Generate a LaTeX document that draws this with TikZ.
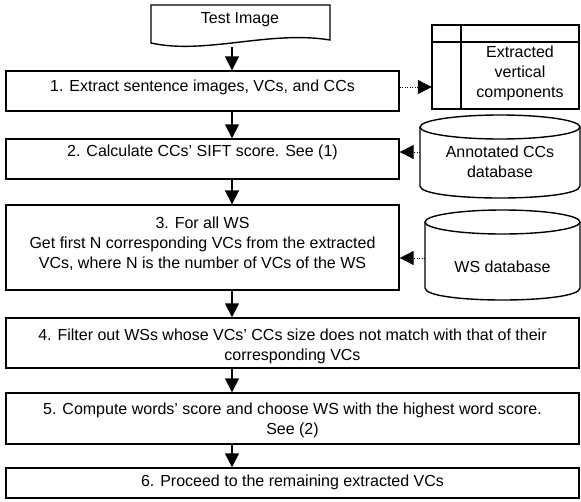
\documentclass[tikz,border=0pt]{standalone}
\usepackage{fontspec}
\setmainfont{Liberation Sans}
\usetikzlibrary{arrows.meta}
\begin{document}
\begin{tikzpicture}[x=1pt,y=-1pt,
  every node/.style={font=\fontsize{16}{20}\selectfont, align=center, inner sep=0pt},
  proc/.style={draw, line width=1.4pt},
  outline/.style={line width=1.4pt},
  flow/.style={line width=1.6pt, -{Triangle[length=14pt,width=14pt]}},
  feed/.style={line width=1pt, dash pattern=on 1pt off 1.5pt, -{Triangle[length=14pt,width=14pt]}}]
\useasboundingbox (0,0) rectangle (581,501);

% input document
\draw[outline] (151,43) -- (151,5) -- (330,5) -- (330,40)
  .. controls (270,30) and (205,55) .. cycle;
\node (img) at (240,20) {Test Image};
\coordinate (imgout) at (232,47);

% step 1 and its output store
\node[proc, minimum width=393pt, minimum height=40pt] (b1) at (202.5,91) {};
\node (t1) at (202.5,87) {1. Extract sentence images, VCs, and CCs};
\draw[outline] (432,25) rectangle (579,109);
\draw[outline] (461,25) -- (461,109) (432,42) -- (579,42);
\node[minimum width=147pt, minimum height=84pt] (store) at (505.5,67) {};
\node (tstore) at (520,73) {Extracted\\vertical\\components};

% step 2 and the annotated CC database
\node[proc, minimum width=393pt, minimum height=40pt] (b2) at (202.5,159) {};
\node (t2) at (202.5,152) {2. Calculate CCs’ SIFT score. See (1)};
\draw[outline] (500,127) ellipse [x radius=80, y radius=12];
\draw[outline] (420,127) -- (420,186) .. controls (420,202) and (580,202) .. (580,186) -- (580,127);
\node (tdb1) at (500,162) {Annotated CCs\\database};
\coordinate (db1in) at (420,152);

% step 3 and the WS database
\node[proc, minimum width=393pt, minimum height=85pt] (b3) at (202.5,247.5) {};
\node (t3) at (202.5,244) {3. For all WS\\Get first N corresponding VCs from the extracted\\VCs, where N is the number of VCs of the WS};
\draw[outline] (502.5,222) ellipse [x radius=77.5, y radius=12];
\draw[outline] (425,222) -- (425,288) .. controls (425,304) and (580,304) .. (580,288) -- (580,222);
\node (tdb2) at (502.5,267) {WS database};
\coordinate (db2in) at (425,258);

% steps 4 to 6
\node[proc, minimum width=573pt, minimum height=50pt] (b4) at (292.5,343) {};
\node (t4) at (292.5,346) {4. Filter out WSs whose VCs’ CCs size does not match with that of their\\corresponding VCs};
\node[proc, minimum width=573pt, minimum height=51pt] (b5) at (292.5,418.5) {};
\node (t5) at (292.5,420) {5. Compute words’ score and choose WS with the highest word score.\\See (2)};
\node[proc, minimum width=573pt, minimum height=30pt] (b6) at (292.5,483) {};
\node (t6) at (292.5,482) {6. Proceed to the remaining extracted VCs};

% main flow
\draw[flow] (imgout) -- (imgout |- b1.north);
\draw[flow] (imgout |- b1.south) -- (imgout |- b2.north);
\draw[flow] (imgout |- b2.south) -- (imgout |- b3.north);
\draw[flow] (imgout |- b3.south) -- (imgout |- b4.north);
\draw[flow] (imgout |- b4.south) -- (imgout |- b5.north);
\draw[flow] (imgout |- b5.south) -- (imgout |- b6.north);

% data links
\draw[feed] ([yshift=4pt]b1.east) -- ([yshift=4pt]b1.east -| store.west);
\draw[feed] (db1in) -- (db1in -| b2.east);
\draw[feed] (db2in) -- (db2in -| b3.east);
\end{tikzpicture}
\end{document}
